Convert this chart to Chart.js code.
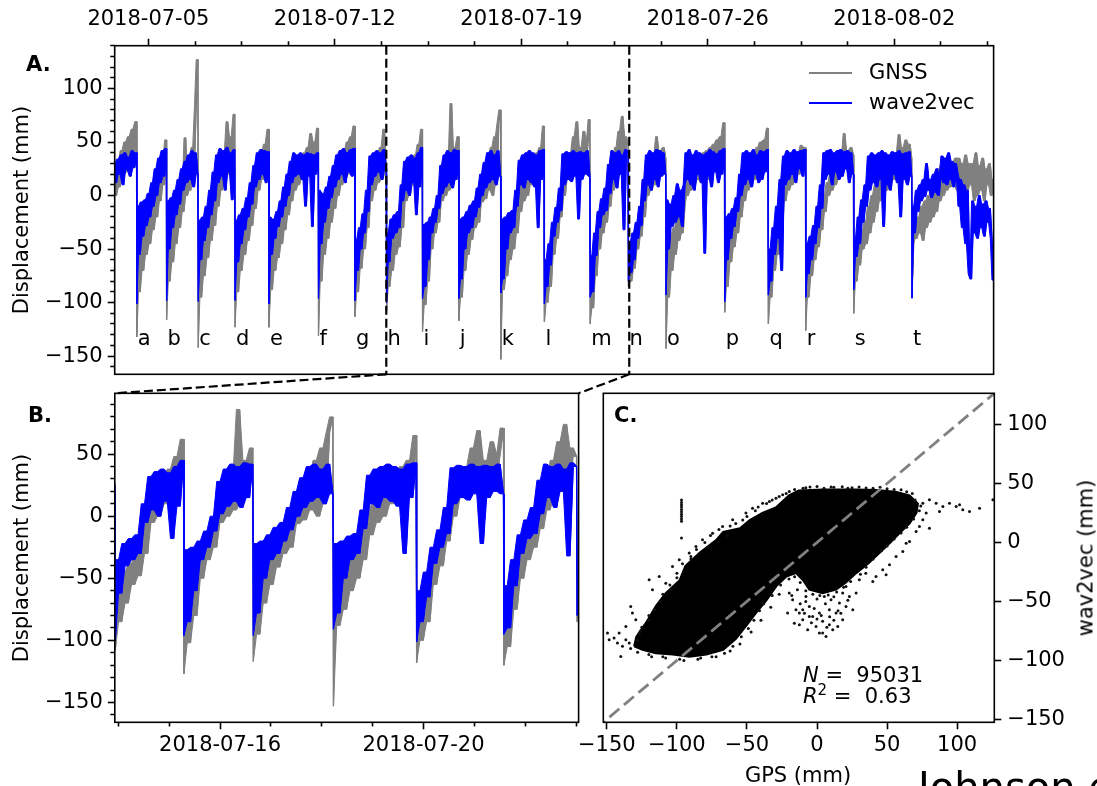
<!DOCTYPE html>
<html><head><meta charset="utf-8">
<script src="https://cdn.jsdelivr.net/npm/chart.js@4.4.1/dist/chart.umd.min.js"></script>
<style>
html,body{margin:0;padding:0;background:#fff;}
body{width:1097px;height:786px;overflow:hidden;position:relative;font-family:"DejaVu Sans",sans-serif;color:#000;}
canvas{position:absolute;left:0;top:0;}
.t{position:absolute;white-space:nowrap;font-size:21px;line-height:21px;}
.rot{position:absolute;white-space:nowrap;font-size:21px;line-height:21px;transform:translate(-50%,-50%) rotate(-90deg);}
.lg{position:absolute;height:2px;}
</style></head><body>
<canvas id="cA" width="1097" height="786"></canvas>
<canvas id="cB" width="1097" height="786"></canvas>
<canvas id="cC" width="1097" height="786"></canvas>

<div class="t" style="left:26px;top:54px;font-weight:bold;">A.</div>
<div class="t" style="left:28px;top:405px;font-weight:bold;">B.</div>
<div class="t" style="left:614px;top:405px;font-weight:bold;">C.</div>

<div class="lg" style="left:809px;top:72px;width:43px;background:#808080"></div>
<div class="lg" style="left:809px;top:102px;width:43px;background:#0000ff"></div>
<div class="t" style="left:869px;top:62px">GNSS</div>
<div class="t" style="left:869px;top:92px">wave2vec</div>

<div class="rot" style="left:20.5px;top:210px">Displacement (mm)</div>
<div class="rot" style="left:20.5px;top:558px">Displacement (mm)</div>
<div class="rot" style="left:1086px;top:558px">wav2vec (mm)</div>
<div class="t" style="left:798px;top:765px;transform:translateX(-50%)">GPS (mm)</div>

<div class="t" style="left:803px;top:665px"><i>N</i> = &nbsp;95031</div>
<div class="t" style="left:803px;top:686px"><i>R</i><span style="font-size:15px;position:relative;top:-8px">2</span> = &nbsp;0.63</div>

<div class="t" style="left:918px;top:767px;font-size:40px;line-height:40px">Johnson e</div>

<script>
// ---------- DATA ----------
// time axis in days since 2018-07-01 00:00
const aRange = [2.735, 35.727];
const bRange = [12.93, 22.05];
const seriesEnd = 35.74;
const aXTicks = [4, 11, 18, 25, 32];
const aXTickLabels = ['2018-07-05', '2018-07-12', '2018-07-19', '2018-07-26', '2018-08-02'];
const aMinorStep = 1.75;
const bXTicks = [15, 19];
const bXTickLabels = ['2018-07-16', '2018-07-20'];
const cTicks = [-150, -100, -50, 0, 50, 100];
const aYRange = [-167, 140];
const bYRange = [-166, 99];
const cRange = [-152.5, 126.5];
const letterLevel = -140;

// start time of each segment (first = start of record, then drop events a..t)
const cycleStarts = [2.735, 3.565, 4.683, 5.869, 7.251, 8.527, 10.385, 11.755, 12.94, 14.29, 15.653,
  17.229, 18.865, 20.582, 22.02, 23.43, 25.633, 27.273, 28.674, 30.476, 32.664];
const cycleLetters = ['', 'a', 'b', 'c', 'd', 'e', 'f', 'g', 'h', 'i', 'j', 'k', 'l', 'm', 'n', 'o', 'p', 'q', 'r', 's', 't'];

// wave2vec displacement (mm), samples per segment
const w2vCycles = [
  [28, 12, 34, 20, 38, 10, 40, 24, 36, 18, 42, 26, 40],
  [-101, -10, -55, -6, -38, -4, -28, 2, -20, 12, -10, 25, 0, 35, 12, 42, 18, 44],
  [-98, -5, -50, -2, -30, 5, -18, 15, -8, 25, 5, 32, 12, 38, 15, 42, 8, 40, 20],
  [-99, -23, -60, -20, -42, -10, -30, 5, -18, 22, -5, 38, 12, 44, 18, 42, 5, 45, 22, 40, -4, 43],
  [-98, -23, -62, -18, -45, -12, -32, -2, -20, 12, -8, 28, 8, 40, 15, 43, 20, 42, 12, 41],
  [-101, -20, -55, -22, -40, -15, -29, -5, -20, 8, -10, 20, 0, 32, 12, 40, 18, 38, 20, 40, 15, 38, -10, 40, 18, 39, -29, 38, 20, 40],
  [-96, 5, -45, 2, -25, 8, -12, 18, -2, 28, 8, 38, 15, 42, 20, 44, 12, 40, 22, 43, 18, 44],
  [-98, -41, -70, -30, -50, -17, -35, 5, -15, 37, 10, 40, 18, 42, 22, 40, 15, 43, 25],
  [-100, -35, -62, -22, -40, -18, -35, -15, -30, 10, -5, 32, 5, 36, 0, 38, 12, 35, -18, 40, 8, 45],
  [-96, -27, -85, -25, -60, -20, -35, -12, -25, 0, -12, 28, 2, 38, 8, 42, 12, 40, 7, 43, 15, 42],
  [-96, -22, -78, -20, -50, -15, -35, -9, -30, -5, -20, 7, -11, 20, 0, 31, 7, 40, 12, 42, 15, 38, 10, 42, 18],
  [-91, -22, -78, -20, -50, -16, -35, -14, -30, 5, -10, 33, 10, 38, 7, 40, 15, 42, 12, 40, 8, 38, -30, 42, 15, 43],
  [-101, -60, -85, -45, -65, -25, -38, -11, -25, 7, -14, 39, 10, 41, 15, 40, 13, 42, 18, 40, -22, 41, 15, 40, 20, 42, 18],
  [-95, -56, -90, -35, -56, -15, -30, -3, -18, 7, -14, 29, 2, 42, 15, 40, 7, 42, 20, 38, -32, 43, 40],
  [-80, -45, -72, -35, -60, -25, -40, -10, -28, 15, -5, 38, 10, 42, 5, 40, 15, 43, 8, 42, 18, 40, 20],
  [-93, -4, -50, -8, -29, 0, -25, 11, -20, 5, -29, 10, 40, 15, 43, 10, 38, 5, 42, 20, 40, 12, 38, -54, 40, 18, 43, 8, 41, 22, 39, 12, 42, 20, 44],
  [-99, -20, -60, -17, -40, -12, -29, -2, -15, 20, 0, 40, 10, 42, 15, 40, 8, 43, 20, 38, 12, 42, 15, 41, 22, 43],
  [-93, -50, -80, -30, -55, -10, -40, 15, -70, 37, 10, 42, 15, 40, 20, 43, 12, 41, 25, 42, 18, 43],
  [-95, -45, -73, -38, -60, -28, -45, -10, -30, 10, -12, 40, 15, 42, 20, 43, 10, 40, 22, 42, 15, 43, 18, 41, 25, 42, 12, 40, 20],
  [-88, -41, -57, -20, -45, -4, -25, 10, -10, 37, 5, 40, 12, 38, 8, 40, 15, 42, -29, 40, 10, 38, 5, 41, 20, 40, 12, 42, -20, 39, 15, 40, 10, 41, 18],
  [-96, -10, -35, 5, -15, 10, -5, 15, -1, 30, 5, 15, -2, 20, 3, 25, 0, 18, 37, 12, 35, 10, 40, 15, 32, 8, 30, 20, -10, 15, -30, 10, -45, 5, -73, -78, -5, -35, -10, -40, 0, -30, -8, -38, -5, -25, -12, -40, -79]
];

// GNSS displacement (mm), samples per segment
const gnssCycles = [
  [15, 0, 30, 8, 42, 18, 50, 22, 55, 30, 62, 35, 69],
  [-132, -40, -90, -35, -70, -28, -55, -20, -45, -10, -32, 5, -20, 18, -5, 30, 10, 52],
  [-116, -35, -80, -25, -62, -18, -45, -10, -30, 5, -15, 54, 0, 20, 5, 45, 25, 83, 127],
  [-142, -45, -95, -40, -75, -30, -58, -20, -42, 0, -28, 15, -10, 25, 5, 40, 15, 69, 20, 55, 10, 76],
  [-123, -50, -90, -40, -70, -32, -55, -22, -42, -8, -28, 10, -12, 25, 5, 38, 15, 48, 22, 62],
  [-123, -48, -88, -42, -70, -35, -58, -25, -45, -12, -32, 0, -18, 12, -5, 22, 5, 30, 10, 35, 15, 40, 10, 45, 20, 58, 25, 50, 30, 63],
  [-131, -30, -80, -25, -55, -15, -40, -5, -25, 8, -12, 20, 0, 30, 10, 40, 15, 50, 20, 55, 25, 65],
  [-113, -55, -90, -45, -68, -30, -50, -10, -30, 20, -5, 30, 5, 38, 12, 45, 15, 62, 20],
  [-108, -60, -85, -45, -70, -38, -55, -30, -48, -10, -30, 15, -5, 25, 0, 30, 10, 38, 5, 48, 20, 62],
  [-127, -40, -102, -35, -80, -25, -50, -15, -35, -8, -25, 12, -5, 25, 0, 35, 5, 86, 10, 45, 15, 55],
  [-117, -45, -95, -40, -70, -30, -55, -19, -41, -12, -30, -3, -25, 10, -6, 18, -3, 30, 5, 45, 0, 55, 10, 68, 80],
  [-153, -40, -88, -35, -75, -28, -60, -24, -50, -10, -35, 5, -15, 15, -5, 25, 0, 30, 10, 35, 15, 40, 20, 45, 25, 65],
  [-118, -80, -100, -60, -85, -40, -55, -25, -40, -8, -20, 15, 0, 25, 15, 40, 20, 55, 25, 69, 20, 45, 25, 60, 30, 50, 71],
  [-120, -70, -105, -55, -75, -35, -50, -20, -35, -5, -25, 10, -10, 25, 5, 45, 15, 60, 20, 74, 25, 55, 48],
  [-85, -55, -80, -45, -68, -35, -50, -20, -38, 0, -20, 20, 0, 30, 5, 38, 10, 55, 15, 42, 20, 45, 35],
  [-143, -45, -95, -38, -70, -30, -55, -20, -42, -15, -35, -10, 20, 0, 25, 5, 30, 10, 35, 15, 38, 12, 40, 10, 42, 15, 45, 20, 48, 25, 52, 30, 55, 35, 68],
  [-109, -45, -85, -38, -62, -30, -48, -18, -35, 0, -20, 15, -5, 25, 5, 32, 10, 38, 15, 45, 20, 50, 25, 52, 30, 63],
  [-120, -60, -95, -45, -70, -25, -55, 0, -35, 15, -5, 25, 5, 32, 10, 38, 15, 40, 20, 47, 25, 45],
  [-126, -60, -95, -50, -75, -42, -60, -30, -48, -15, -32, 0, -15, 12, 0, 20, 5, 28, 10, 32, 15, 38, 20, 58, 25, 42, 20, 45, 38],
  [-110, -55, -80, -45, -65, -35, -50, -25, -45, -10, -35, 0, -25, 10, -15, 15, -5, 20, 0, 25, 5, 30, 10, 35, 15, 40, 20, 57, 25, 45, 20, 52, 30, 48, 35],
  [-95, -45, -30, -40, -20, -35, -10, -42, -5, -30, 0, -25, 5, -20, 10, -15, 25, -5, 30, 0, 28, 5, 32, 8, 30, 10, 35, 5, 35, 0, 30, 10, 38, 5, 30, 10, 30, -5, 40, 0, 28, 5, 35, -5, 25, 10, 30, 0, 15]
];

// Panel C: dense core outline (GPS x, wav2vec y), sparse dots, streak
const blobOutline = [[-130.5,-88],[-129,-80],[-122,-68],[-115,-54],[-108,-43],[-98,-32],[-94,-20],[-84,-9],[-72,2],[-67,9],
  [-55,12],[-48,19],[-39,25],[-29,30],[-20,40],[-13,44],[4,45],[28,45],[42,44.6],[56,43],[66,40],[72,33],[71,25],[66,16],
  [59,8],[52,-0.5],[44.5,-9],[37,-17.5],[28,-26],[20.7,-34],[13.6,-40],[4,-43],[-5.5,-40],[-10,-32],[-15,-26],[-22,-29],
  [-29,-37],[-36,-49],[-43.6,-60],[-50.7,-71],[-58,-82],[-67,-91],[-79,-95],[-91,-97],[-103,-95],[-115,-94],[-124.5,-91],[-130.5,-88]];
const scatterDots = [[-153.1,-79.7],[-149.5,-76.8],[-144.8,-81.1],[-141.2,-76.8],[-138.8,-88.1],[-136.4,-82.5],[-134,-85.3],
  [-132.9,-54.2],[-131.7,-59.9],[-140,-96.6],[-136.4,-71.2],[-129.3,-65.5],[-126.9,-76.8],[-148.3,-82.5],[-142.4,-85.3],
  [-119.8,-31.6],[-117.4,-40.1],[-112.6,-28.8],[-103.1,-20.3],[-107.9,-34.5],[-98.3,-14.7],[-91.2,-9],[-86.4,-3.4],
  [-81.7,2.3],[-74.5,7.9],[-67.4,13.6],[-60.2,19.2],[-50.7,24.9],[-46,29.1],[-38.8,33.3],[-34,34.7],[-29.3,37.6],
  [-24.5,40.4],[-19.8,43.2],[75.5,33.3],[80.2,36.2],[85,33.3],[89.8,30.5],[94.5,33.3],[99.3,30.5],[101.7,31.9],[104,27.7],
  [108.8,26.3],[116,29.1],[125.5,36.2],[75.5,19.2],[80.2,12.1],[73.1,13.6],[77.9,24.9],[87.4,26.3],[70.7,9.3],
  [63.6,-0.6],[61.2,-7.6],[56.4,-11.9],[51.7,-18.9],[46.9,-23.2],[42.1,-28.8],[39.8,-33.1],[49.3,-27.4],[66,0.8],
  [-19.8,-42.9],[-17.4,-48.6],[-15,-57.1],[-12.6,-59.9],[-10.2,-65.5],[-7.9,-45.8],[-5.5,-54.2],[-3.1,-62.7],[-0.7,-71.2],
  [1.7,-76.8],[4,-66.9],[6.4,-79.7],[8.8,-57.1],[11.2,-74],[13.6,-59.9],[16,-51.4],[18.3,-65.5],[20.7,-54.2],[23.1,-45.8],
  [25.5,-57.1],[-21,-59.9],[-16.2,-68.4],[-12.6,-69.8],[-6.7,-74],[4,-76.8],[14.8,-71.2],[8.8,-69.8],[1.7,-59.9],[-5.5,-62.7],
  [-10.2,-57.1],[10,-48.6],[5.2,-45.8],[18.3,-42.9],[20.7,-37.3],[30.2,-31.6],[27.9,-42.9],[34.8,-26],
  [-14,-40],[-8,-50],[0,-48],[6,-52],[12,-46],[-2,-56],[3,-62],[9,-63],[15,-58],[-12,-52],[-18,-45],[22,-49],[-4,-68],
  [7,-72],[12,-66],[-9,-60],[0,-65],[17,-60],
  [-85,-99],[-72,-97],[-62,-92],[-55,-86],[-98,-99],[-110,-97],[-120,-95],[-47,-76],[-40,-66],[-33,-55],[-27,-44],
  [-5,47],[10,47],[25,46.5],[40,46],[55,45],[-10,46],
  [-125,-72],[-120,-62],[-112,-50],[-104,-40],[-100,-26],[-90,-14],[-78,-4],[-64,6],
  [-8,46.5],[0,47.5],[5,46],[12,46.8],[18,47.2],[22,46],[30,47],[35,46.2],[45,46.8],[50,45.5],[60,44.8],[64,43],[68,41.5],
  [-16,45],[-22,41.5],[-27,39],[-32,36],[-36,33],[-42,30],[-44,27],[-50,22],[-53,19],[-58,16],[-62,14],[-70,11],[-76,6],
  [-80,0],[-86,-6],[-90,-12],[-96,-18],[-100,-30],[-105,-36],[-110,-44],[-116,-57],[-120,-66],[-126,-75],[-128,-83],
  [-133,-90],[-128,-93],[-118,-97],[-108,-98],[-95,-100],[-83,-98],[-75,-97],[-66,-94],[-60,-88],[-54,-80],[-49,-73],
  [-45,-66],[-41,-58],[-38,-52],[-32,-45],[-26,-36],[-20,-31],[-16,-29],[-12,-34],[-8,-41],[-3,-44],[2,-45],[8,-44.5],
  [14,-42],[19,-38],[24,-33],[31,-27],[35,-21],[40,-14],[46,-7],[50,-3],[55,3],[60,8],[64,13],[69,20],[73,27],[74,31],[70,36]];
const streakDots = [[-96.7,36],[-96.7,34],[-96.7,32],[-96.7,30],[-96.7,28],[-96.7,26],[-96.7,24],[-96.7,22],[-96.7,20],[-96.7,18],[-96.7,3.7]];
const identityLine = [-200, 200];

// ---------- BUILD ----------
function buildSeries(cycles) {
  const line = [], upper = [], lower = [];
  for (let k = 0; k < cycles.length; k++) {
    const t0 = cycleStarts[k];
    const t1 = (k + 1 < cycleStarts.length ? cycleStarts[k + 1] : seriesEnd) - 0.01;
    const vals = cycles[k], n = vals.length;
    for (let j = 0; j < n; j++) {
      const x = t0 + (t1 - t0) * j / (n - 1);
      const nb = j < n - 1 ? vals[j + 1] : vals[j];
      line.push({x, y: vals[j]});
      upper.push({x, y: Math.max(vals[j], nb)});
      lower.push({x, y: Math.min(vals[j], nb)});
    }
  }
  return {line, upper, lower};
}
const fmt = v => (v < 0 ? '\u2212' + Math.abs(v) : String(v));
function valTicks(min, max, minor, major) {
  const out = [];
  for (let v = Math.ceil(min / minor) * minor; v <= max + 1e-9; v += minor) {
    const mj = Math.abs(v % major) < 1e-9;
    out.push({value: v, mj, lbl: mj ? fmt(v) : ''});
  }
  return out;
}
function aXTickList() {
  const out = [], base = aXTicks[0];
  for (let k = Math.ceil((aRange[0] - base) / aMinorStep); base + k * aMinorStep <= aRange[1]; k++) {
    const v = base + k * aMinorStep, idx = aXTicks.indexOf(v);
    out.push({value: v, mj: ((k % 4) + 4) % 4 === 0, lbl: idx >= 0 ? aXTickLabels[idx] : ''});
  }
  return out;
}
function bXTickList() {
  const out = [];
  for (let v = Math.ceil(bRange[0]); v <= bRange[1]; v++) {
    const idx = bXTicks.indexOf(v);
    out.push({value: v, mj: idx >= 0, lbl: idx >= 0 ? bXTickLabels[idx] : ''});
  }
  return out;
}

Chart.defaults.font.family = '"DejaVu Sans", sans-serif';
Chart.defaults.font.size = 21;
Chart.defaults.color = '#000';

const FS = {size: 21, lineHeight: 1};
const dashOuterFirst = c => (c.tick && c.tick.mj) ? [] : [0, 2.5, 4.5, 100];
const dashInnerFirst = c => (c.tick && c.tick.mj) ? [] : [4.5, 100];
function gridOpts(dashFn) {
  return {display: true, drawOnChartArea: false, drawTicks: true, tickLength: 7, tickColor: '#000', tickWidth: 1.6, tickBorderDash: dashFn};
}
const lbl = (v, i, t) => t[i].lbl;
const baseOpts = {responsive: false, devicePixelRatio: 1, animation: false, events: [],
  plugins: {legend: {display: false}, tooltip: {enabled: false}}};

function frame(ctx, a) {
  ctx.save(); ctx.strokeStyle = '#000'; ctx.lineWidth = 1.6; ctx.setLineDash([]);
  ctx.strokeRect(a.left, a.top, a.right - a.left, a.bottom - a.top); ctx.restore();
}

const gnss = buildSeries(gnssCycles);
const w2v = buildSeries(w2vCycles);
function seriesDatasets() {
  const mk = (label, data, color, order, extra) => Object.assign({label, data: data.slice(), borderColor: color,
    backgroundColor: color, borderWidth: 1, pointRadius: 0, borderJoinStyle: 'bevel', tension: 0, order, fill: false}, extra || {});
  return [
    mk('wave2vec', w2v.line, '#0000ff', 0, {borderWidth: 1.3}),
    mk('wave2vec upper', w2v.upper, '#0000ff', 1, {fill: '+1'}),
    mk('wave2vec lower', w2v.lower, '#0000ff', 2),
    mk('GNSS', gnss.line, '#808080', 3, {borderWidth: 1.3}),
    mk('GNSS upper', gnss.upper, '#808080', 4, {fill: '+1'}),
    mk('GNSS lower', gnss.lower, '#808080', 5)
  ];
}

// ---------- CHART A ----------
const chartA = new Chart(document.getElementById('cA'), {
  type: 'line',
  data: {datasets: seriesDatasets()},
  options: Object.assign({}, baseOpts, {
    layout: {padding: {left: 34.7, top: 5.7, right: 103.4, bottom: 411.7}},
    scales: {
      x: {type: 'linear', position: 'top', min: aRange[0], max: aRange[1],
        afterBuildTicks: s => { s.ticks = aXTickList(); }, afterFit: s => { s.height = 40; },
        ticks: {autoSkip: false, maxRotation: 0, padding: 9, font: FS, callback: lbl},
        grid: gridOpts(dashOuterFirst), border: {display: false}},
      y: {type: 'linear', position: 'left', min: aYRange[0], max: aYRange[1],
        afterBuildTicks: s => { s.ticks = valTicks(aYRange[0], aYRange[1], 10, 50); }, afterFit: s => { s.width = 80; },
        ticks: {autoSkip: false, padding: 5, font: FS, callback: lbl},
        grid: gridOpts(dashOuterFirst), border: {display: false}}
    }
  }),
  plugins: [{id: 'aExtras', afterDatasetsDraw(chart) {
    const {ctx, chartArea: a, scales: {x, y}} = chart;
    ctx.save();
    ctx.strokeStyle = '#000'; ctx.lineWidth = 2.2; ctx.setLineDash([9, 4]);
    bRange.forEach(v => { const px = x.getPixelForValue(v); ctx.beginPath(); ctx.moveTo(px, a.top); ctx.lineTo(px, a.bottom); ctx.stroke(); });
    ctx.setLineDash([]);
    ctx.fillStyle = '#000'; ctx.font = '21px "DejaVu Sans"'; ctx.textAlign = 'left'; ctx.textBaseline = 'alphabetic';
    cycleLetters.forEach((l, i) => { if (l) ctx.fillText(l, x.getPixelForValue(cycleStarts[i]) + 1, y.getPixelForValue(letterLevel)); });
    ctx.restore();
    frame(ctx, a);
  }}]
});

// ---------- CHART B ----------
const chartB = new Chart(document.getElementById('cB'), {
  type: 'line',
  data: {datasets: seriesDatasets()},
  options: Object.assign({}, baseOpts, {
    layout: {padding: {left: 34.8, top: 393.3, right: 518.4, bottom: 23.7}},
    scales: {
      x: {type: 'linear', position: 'bottom', min: bRange[0], max: bRange[1],
        afterBuildTicks: s => { s.ticks = bXTickList(); }, afterFit: s => { s.height = 40; },
        ticks: {autoSkip: false, maxRotation: 0, padding: 6, font: FS, callback: lbl},
        grid: gridOpts(dashInnerFirst), border: {display: false}},
      y: {type: 'linear', position: 'left', min: bYRange[0], max: bYRange[1],
        afterBuildTicks: s => { s.ticks = valTicks(bYRange[0], bYRange[1], 10, 50); }, afterFit: s => { s.width = 80; },
        ticks: {autoSkip: false, padding: 5, font: FS, callback: lbl},
        grid: gridOpts(dashOuterFirst), border: {display: false}}
    }
  }),
  plugins: [{id: 'bExtras', afterDraw(chart) {
    const {ctx, chartArea: b} = chart;
    frame(ctx, b);
    const ax = chartA.scales.x, aa = chartA.chartArea;
    ctx.save(); ctx.strokeStyle = '#000'; ctx.lineWidth = 2.2; ctx.setLineDash([9, 4]);
    ctx.beginPath(); ctx.moveTo(ax.getPixelForValue(bRange[0]), aa.bottom); ctx.lineTo(b.left, b.top); ctx.stroke();
    ctx.beginPath(); ctx.moveTo(ax.getPixelForValue(bRange[1]), aa.bottom); ctx.lineTo(b.right, b.top); ctx.stroke();
    ctx.restore();
  }}]
});

// ---------- CHART C ----------
const toXY = arr => arr.map(p => ({x: p[0], y: p[1]}));
const chartC = new Chart(document.getElementById('cC'), {
  type: 'scatter',
  data: {datasets: [
    {type: 'line', data: toXY(blobOutline), showLine: true, fill: 'shape', backgroundColor: '#000', borderColor: '#000',
      borderWidth: 2, pointRadius: 0, tension: 0, order: 3},
    {type: 'scatter', data: toXY(scatterDots), pointRadius: 1.5, pointBackgroundColor: '#111', pointBorderWidth: 0, order: 2},
    {type: 'scatter', data: toXY(streakDots), pointRadius: 1.5, pointBackgroundColor: '#111', pointBorderWidth: 0, order: 2},
    {type: 'line', data: identityLine.map(v => ({x: v, y: v})), showLine: true, borderColor: '#808080', borderWidth: 2.8,
      borderDash: [13, 6], pointRadius: 0, fill: false, order: 0}
  ]},
  options: Object.assign({}, baseOpts, {
    layout: {padding: {left: 603.3, top: 393.3, right: 22.7, bottom: 23.7}},
    scales: {
      x: {type: 'linear', position: 'bottom', min: cRange[0], max: cRange[1],
        afterBuildTicks: s => { s.ticks = cTicks.map(v => ({value: v, mj: true, lbl: fmt(v)})); }, afterFit: s => { s.height = 40; },
        ticks: {autoSkip: false, maxRotation: 0, padding: 6, font: FS, callback: lbl},
        grid: gridOpts(dashInnerFirst), border: {display: false}},
      y: {type: 'linear', position: 'right', min: cRange[0], max: cRange[1],
        afterBuildTicks: s => { s.ticks = cTicks.map(v => ({value: v, mj: true, lbl: fmt(v)})); }, afterFit: s => { s.width = 80; },
        ticks: {autoSkip: false, padding: 6, font: FS, callback: lbl},
        grid: gridOpts(dashInnerFirst), border: {display: false}}
    }
  }),
  plugins: [{id: 'cFrame', afterDraw(chart) { frame(chart.ctx, chart.chartArea); }}]
});
</script>
</body></html>
